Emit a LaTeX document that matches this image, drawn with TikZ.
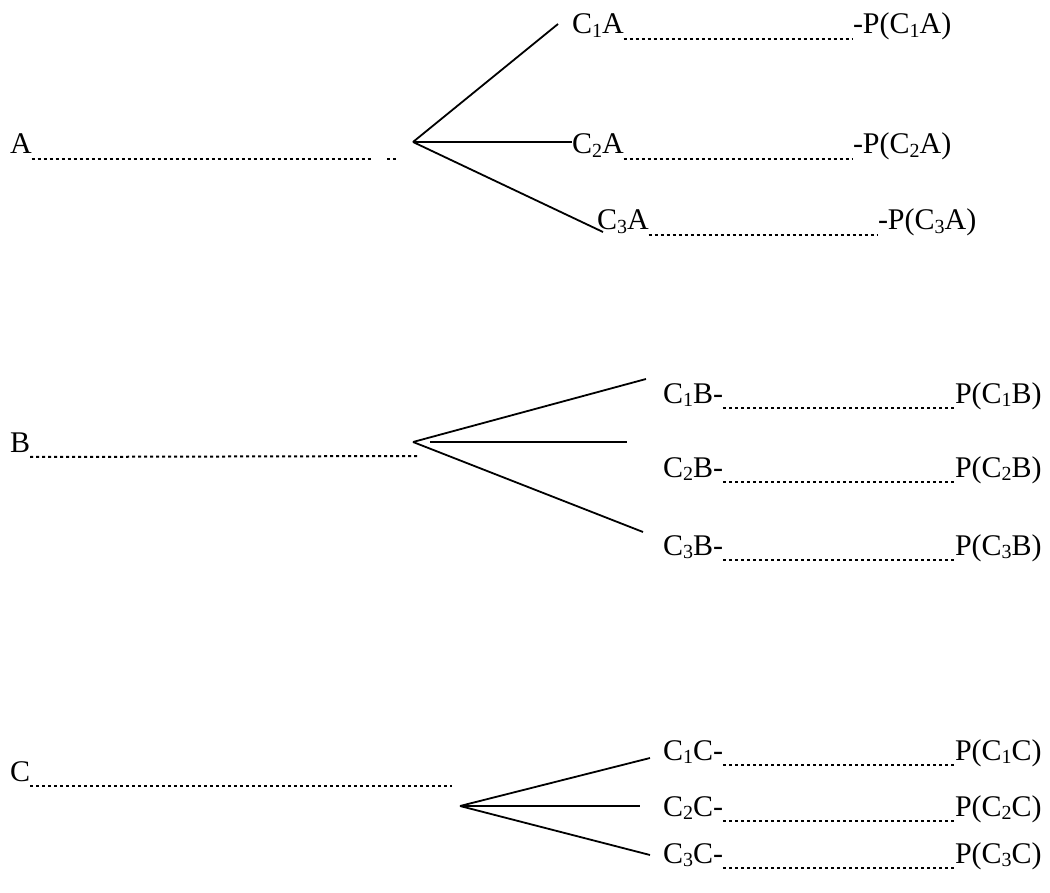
\documentclass[tikz,border=0pt]{standalone}
\usepackage{fontspec}
\setmainfont{Liberation Serif}
\newcommand{\sbs}[1]{\raisebox{-0.12em}{\fontsize{20}{20}\selectfont #1}}
\tikzset{
  lbl/.style={inner sep=0pt, outer sep=0pt, anchor=base west, font=\fontsize{30}{36}\selectfont},
  branch/.style={line width=1.8pt},
  dots/.style={line width=2pt, dash pattern=on 3pt off 3pt},
}
\begin{document}
\begin{tikzpicture}[x=1pt,y=-1pt]
\path[use as bounding box, fill=white] (0,0) rectangle (1050,893);

% ---------- A ----------
\node[lbl] (A) at (10,154) {A};
\coordinate (Adot1) at (373,159);
\coordinate (Adot2) at (387,159);
\coordinate (Adot3) at (397,159);
\coordinate (vA) at (413,142);
\node[lbl] (c1a) at (572,34) {C\sbs{1}A};
\node[lbl] (c2a) at (572,154) {C\sbs{2}A};
\node[lbl] (c3a) at (597,230) {C\sbs{3}A};
\node[lbl] (p1a) at (853,34) {-P(C\sbs{1}A)};
\node[lbl] (p2a) at (853,154) {-P(C\sbs{2}A)};
\node[lbl] (p3a) at (878,230) {-P(C\sbs{3}A)};
\coordinate (eA1) at (558,24);
\coordinate (eA2) at (572,142);
\coordinate (eA3) at (603,232);
\draw[dots] ([yshift=-5pt]A.base east) -- (Adot1);
\draw[dots] (Adot2) -- (Adot3);
\draw[branch] (vA) -- (eA1);
\draw[branch] (vA) -- (eA2);
\draw[branch] (vA) -- (eA3);
\draw[dots] ([yshift=-5pt]c1a.base east) -- ([yshift=-5pt]p1a.base west);
\draw[dots] ([yshift=-5pt]c2a.base east) -- ([yshift=-5pt]p2a.base west);
\draw[dots] ([yshift=-5pt]c3a.base east) -- ([yshift=-5pt]p3a.base west);

% ---------- B ----------
\node[lbl] (B) at (10,452) {B};
\coordinate (Bdot) at (420,456);
\coordinate (vB) at (413,442);
\coordinate (vBm) at (430,442);
\coordinate (eB1) at (646,379);
\coordinate (eB2) at (627,442);
\coordinate (eB3) at (643,532);
\node[lbl] (c1b) at (663,403) {C\sbs{1}B-};
\node[lbl] (c2b) at (663,477) {C\sbs{2}B-};
\node[lbl] (c3b) at (663,555) {C\sbs{3}B-};
\node[lbl] (p1b) at (955,403) {P(C\sbs{1}B)};
\node[lbl] (p2b) at (955,477) {P(C\sbs{2}B)};
\node[lbl] (p3b) at (955,555) {P(C\sbs{3}B)};
\draw[dots] ([yshift=-5pt]B.base east) -- (Bdot);
\draw[branch] (vB) -- (eB1);
\draw[branch] (vBm) -- (eB2);
\draw[branch] (vB) -- (eB3);
\draw[dots] ([yshift=-5pt]c1b.base east) -- ([yshift=-5pt]p1b.base west);
\draw[dots] ([yshift=-5pt]c2b.base east) -- ([yshift=-5pt]p2b.base west);
\draw[dots] ([yshift=-5pt]c3b.base east) -- ([yshift=-5pt]p3b.base west);

% ---------- C ----------
\node[lbl] (C) at (10,781) {C};
\coordinate (Cdot) at (452,786);
\coordinate (vC) at (460,806);
\coordinate (eC1) at (650,758);
\coordinate (eC2) at (640,806);
\coordinate (eC3) at (650,855);
\node[lbl] (c1c) at (663,760) {C\sbs{1}C-};
\node[lbl] (c2c) at (663,816) {C\sbs{2}C-};
\node[lbl] (c3c) at (663,863) {C\sbs{3}C-};
\node[lbl] (p1c) at (955,760) {P(C\sbs{1}C)};
\node[lbl] (p2c) at (955,816) {P(C\sbs{2}C)};
\node[lbl] (p3c) at (955,863) {P(C\sbs{3}C)};
\draw[dots] ([yshift=-5pt]C.base east) -- (Cdot);
\draw[branch] (vC) -- (eC1);
\draw[branch] (vC) -- (eC2);
\draw[branch] (vC) -- (eC3);
\draw[dots] ([yshift=-5pt]c1c.base east) -- ([yshift=-5pt]p1c.base west);
\draw[dots] ([yshift=-5pt]c2c.base east) -- ([yshift=-5pt]p2c.base west);
\draw[dots] ([yshift=-5pt]c3c.base east) -- ([yshift=-5pt]p3c.base west);
\end{tikzpicture}
\end{document}
